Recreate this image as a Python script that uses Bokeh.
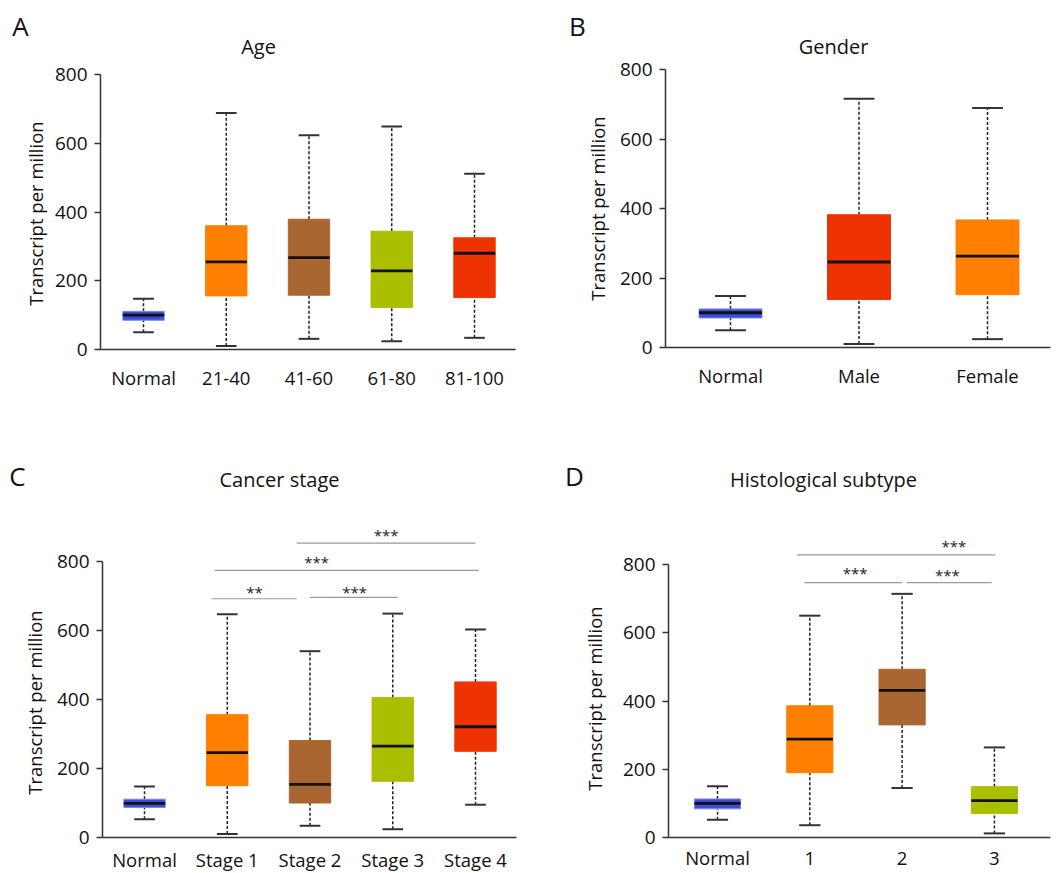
import math
import numpy as np
from bokeh.plotting import figure
from bokeh.layouts import gridplot
from bokeh.models import FixedTicker, Label, Range1d
from bokeh.embed import file_html
from bokeh.resources import INLINE

FONT = "Open Sans"

BLUE = "#3d4ed6"
ORANGE = "#ff8000"
BROWN = "#aa6630"
LIME = "#a9bf00"
RED = "#ee3300"

# ---------------- data ----------------
# Panel A: Age
age_groups = ["Normal", "21-40", "41-60", "61-80", "81-100"]
age_low = [50, 10, 31, 24, 34]
age_q1 = [85, 156, 158, 122, 151]
age_med = [100, 255, 267, 229, 280]
age_q3 = [111, 360, 379, 344, 325]
age_high = [148, 688, 623, 649, 511]
age_colors = [BLUE, ORANGE, BROWN, LIME, RED]

# Panel B: Gender
gen_groups = ["Normal", "Male", "Female"]
gen_low = [50, 10, 24]
gen_q1 = [85, 138, 152]
gen_med = [100, 246, 263]
gen_q3 = [111, 382, 367]
gen_high = [148, 716, 689]
gen_colors = [BLUE, RED, ORANGE]

# Panel C: Cancer stage
stg_groups = ["Normal", "Stage 1", "Stage 2", "Stage 3", "Stage 4"]
stg_low = [53, 10, 34, 24, 95]
stg_q1 = [87, 150, 100, 163, 250]
stg_med = [99, 246, 154, 265, 321]
stg_q3 = [111, 356, 281, 406, 451]
stg_high = [148, 647, 540, 649, 603]
stg_colors = [BLUE, ORANGE, BROWN, LIME, RED]
stg_sig_from = ["Stage 1", "Stage 2", "Stage 1", "Stage 2"]
stg_sig_to = ["Stage 2", "Stage 3", "Stage 4", "Stage 4"]
stg_sig_text = ["**", "***", "***", "***"]

# Panel D: Histological subtype
his_groups = ["Normal", "1", "2", "3"]
his_low = [52, 36, 145, 12]
his_q1 = [84, 190, 330, 70]
his_med = [100, 288, 431, 108]
his_q3 = [113, 386, 493, 149]
his_high = [150, 650, 714, 264]
his_colors = [BLUE, ORANGE, BROWN, LIME]
his_sig_from = ["1", "1", "2"]
his_sig_to = ["3", "2", "3"]
his_sig_text = ["***", "***", "***"]

y_ticks = [0, 200, 400, 600, 800]
y_title = "Transcript per million"

# ---------------- layout (positions / styles) ----------------
stg_sig_layout = dict(level=[692, 696, 774, 853], off0=[-0.19, 0.0, -0.15, -0.16],
                      off1=[-0.16, 0.06, 0.04, 0.0], tx=[2.33, 3.54, 3.08, 3.92],
                      ty=[713, 711, 799, 877])
his_sig_layout = dict(level=[828, 747, 747], off0=[-0.14, -0.06, 0.05],
                      off1=[0.01, 0.0, -0.03], tx=[3.56, 2.49, 3.49],
                      ty=[853, 775, 768])

# panel geometry in local pixels
geo_A = dict(size=(530, 430), axis_x=100, axis_end=515, cat1=143, spacing=82.75, y0=349, y800=74,
             letter=(20, 25), title=(258, 46), ylab=(35, 213), xl_standoff=15, box_w=0.5, cap_w=0.25)
geo_B = dict(size=(531, 430), axis_x=135, axis_end=520, cat1=200, spacing=128.5, y0=347, y800=69,
             letter=(47, 25), title=(303, 46), ylab=(67, 208), xl_standoff=15, box_w=0.49, cap_w=0.24)
geo_C = dict(size=(530, 443), axis_x=102, axis_end=516, cat1=144, spacing=82.75, y0=407, y800=131,
             letter=(17, 45), title=(279, 49), ylab=(34, 272), xl_standoff=9, box_w=0.5, cap_w=0.25)
geo_D = dict(size=(531, 443), axis_x=138, axis_end=520, cat1=187, spacing=92.3, y0=407, y800=134,
             letter=(44, 45), title=(293, 49), ylab=(64, 268), xl_standoff=7, box_w=0.5, cap_w=0.23)


def make_panel(groups, low, q1, med, q3, high, colors, title, letter, g, sig=None, sig_layout=None):
    W, H = g["size"]

    def X(px):
        return 1 + (px - g["cat1"]) / g["spacing"]

    def Y(py):
        return (g["y0"] - py) * 800.0 / (g["y0"] - g["y800"])

    p = figure(width=W, height=H, output_backend="svg", toolbar_location=None,
               x_range=Range1d(X(0), X(W)), y_range=Range1d(Y(H), Y(0)),
               min_border_left=0, min_border_right=0, min_border_top=0, min_border_bottom=0)
    p.outline_line_color = None
    p.grid.visible = False
    p.background_fill_color = "white"
    p.border_fill_color = "white"

    xs = np.arange(1, len(groups) + 1, dtype=float)
    box_w, cap_w = g["box_w"], g["cap_w"]

    # whiskers
    p.segment(x0=xs, y0=q3, x1=xs, y1=high, line_color="#222222", line_width=1.5, line_dash="3 2")
    p.segment(x0=xs, y0=low, x1=xs, y1=q1, line_color="#222222", line_width=1.5, line_dash="3 2")
    # caps
    p.segment(x0=xs - cap_w / 2, y0=high, x1=xs + cap_w / 2, y1=high, line_color="#333333", line_width=2)
    p.segment(x0=xs - cap_w / 2, y0=low, x1=xs + cap_w / 2, y1=low, line_color="#333333", line_width=2)
    # boxes
    lc = ["#7f8ae6" if c == BLUE else c for c in colors]
    p.vbar(x=xs, width=box_w, bottom=q1, top=q3, fill_color=colors, line_color=lc, line_width=1)
    # medians
    p.segment(x0=xs - box_w / 2, y0=med, x1=xs + box_w / 2, y1=med, line_color="#111111", line_width=2.8)

    # significance brackets
    if sig is not None:
        frm, to, txt = sig
        idx = {gname: i + 1 for i, gname in enumerate(groups)}
        x0 = [idx[a] + o for a, o in zip(frm, sig_layout["off0"])]
        x1 = [idx[b] + o for b, o in zip(to, sig_layout["off1"])]
        p.segment(x0=x0, y0=sig_layout["level"], x1=x1, y1=sig_layout["level"],
                  line_color="#9a9a9a", line_width=1.2)
        for t, tx, ty in zip(txt, sig_layout["tx"], sig_layout["ty"]):
            p.add_layout(Label(x=tx, y=ty, text=t, text_font=FONT, text_font_size="15px",
                               text_color="#222222", text_align="center", text_baseline="middle"))

    # axes (fixed inside the frame)
    ya = p.yaxis[0]
    ya.fixed_location = X(g["axis_x"])
    ya.ticker = FixedTicker(ticks=y_ticks)
    ya.bounds = (0, 800)
    ya.major_label_text_font = FONT
    ya.major_label_text_font_size = "19px"
    ya.major_label_text_color = "#111111"
    ya.major_tick_out = 6
    ya.major_tick_in = 0
    ya.major_label_standoff = 7
    ya.minor_tick_line_color = None
    ya.minor_tick_out = 0
    ya.minor_tick_in = 0
    ya.axis_line_color = "#333333"
    ya.axis_line_width = 1.5
    ya.major_tick_line_color = "#333333"
    ya.major_tick_line_width = 1.3

    xa = p.xaxis[0]
    xa.fixed_location = 0
    xa.bounds = (X(g["axis_x"]), X(g["axis_end"]))
    xa.ticker = FixedTicker(ticks=list(xs))
    xa.major_label_overrides = {float(i + 1): gname for i, gname in enumerate(groups)}
    xa.major_label_text_font = FONT
    xa.major_label_text_font_size = "18.5px"
    xa.major_label_text_color = "#111111"
    xa.major_tick_line_color = None
    xa.major_tick_out = 0
    xa.major_tick_in = 0
    xa.minor_tick_line_color = None
    xa.minor_tick_out = 0
    xa.minor_tick_in = 0
    xa.major_label_standoff = g["xl_standoff"]
    xa.axis_line_color = "#333333"
    xa.axis_line_width = 1.5

    # texts: y-axis title, panel title, panel letter
    p.add_layout(Label(x=X(g["ylab"][0]), y=Y(g["ylab"][1]), text=y_title, angle=math.pi / 2,
                       text_font=FONT, text_font_size="18.5px", text_color="#111111",
                       text_align="center", text_baseline="middle"))
    p.add_layout(Label(x=X(g["title"][0]), y=Y(g["title"][1]), text=title, text_font=FONT,
                       text_font_size="20px", text_color="#111111",
                       text_align="center", text_baseline="middle"))
    p.add_layout(Label(x=X(g["letter"][0]), y=Y(g["letter"][1]), text=letter, text_font=FONT,
                       text_font_size="26px", text_color="#111111",
                       text_align="center", text_baseline="middle"))
    return p


pA = make_panel(age_groups, age_low, age_q1, age_med, age_q3, age_high, age_colors,
                "Age", "A", geo_A)
pB = make_panel(gen_groups, gen_low, gen_q1, gen_med, gen_q3, gen_high, gen_colors,
                "Gender", "B", geo_B)
pC = make_panel(stg_groups, stg_low, stg_q1, stg_med, stg_q3, stg_high, stg_colors,
                "Cancer stage", "C", geo_C,
                sig=(stg_sig_from, stg_sig_to, stg_sig_text), sig_layout=stg_sig_layout)
pD = make_panel(his_groups, his_low, his_q1, his_med, his_q3, his_high, his_colors,
                "Histological subtype", "D", geo_D,
                sig=(his_sig_from, his_sig_to, his_sig_text), sig_layout=his_sig_layout)

grid = gridplot([[pA, pB], [pC, pD]], toolbar_location=None)

open("out.html", "w").write(file_html(grid, INLINE))
